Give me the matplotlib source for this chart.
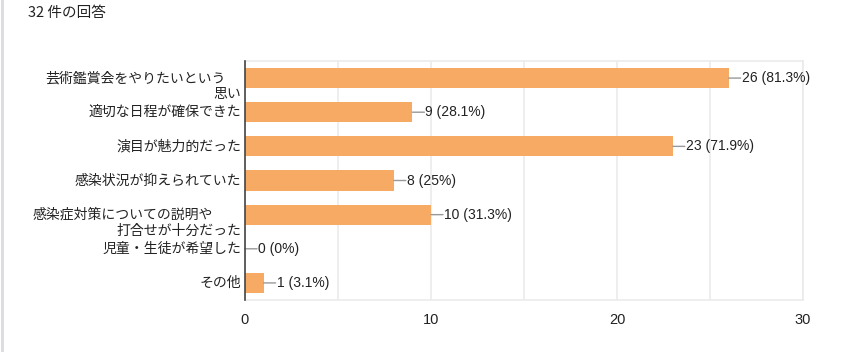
import matplotlib.pyplot as plt
from matplotlib.lines import Line2D

plt.rcParams['font.family'] = ['Liberation Sans', 'Noto Sans CJK JP', 'DejaVu Sans']

# データ
labels_line1 = ['芸術鑑賞会をやりたいという', '適切な日程が確保できた', '演目が魅力的だった',
                '感染状況が抑えられていた', '感染症対策についての説明や', '児童・生徒が希望した', 'その他']
labels_line2 = ['思い', '', '', '', '打合せが十分だった', '', '']
counts = [26, 9, 23, 8, 10, 0, 1]
percents = ['81.3%', '28.1%', '71.9%', '25%', '31.3%', '0%', '3.1%']
total_text = '32 件の回答'
xticks = [0, 10, 20, 30]

bar_color = '#F6AA63'
text_color = '#222222'

fig = plt.figure(figsize=(8.5, 3.52), dpi=100)
ax = fig.add_axes([245 / 850, 1 - 300 / 352, 558 / 850, 239 / 352])

y = list(range(len(counts)))
ax.barh(y, counts, height=0.59, color=bar_color, zorder=2)
ax.set_ylim(len(counts) - 0.5, -0.5)
ax.set_xlim(0, 30)

# グリッド
ax.set_xticks(xticks)
ax.set_xticks([5, 15, 25], minor=True)
ax.grid(axis='x', which='both', color='#EBEBEB', linewidth=1.2, zorder=0)
ax.tick_params(axis='x', which='both', length=0, pad=9, labelsize=10.5, labelcolor=text_color)
ax.set_yticks([])
for side in ['top', 'right', 'bottom']:
    ax.spines[side].set_color('#EBEBEB')
    ax.spines[side].set_linewidth(1.2)
ax.spines['left'].set_color('#444444')
ax.spines['left'].set_linewidth(1.2)
ax.spines['left'].set_zorder(3)

# 値ラベル
for i, (c, p) in enumerate(zip(counts, percents)):
    ax.annotate('', xy=(c, i), xytext=(12, 0), textcoords='offset pixels',
                arrowprops=dict(arrowstyle='-', color='#999999', lw=1, shrinkA=0, shrinkB=0))
    ax.annotate(f'{c} ({p})', xy=(c, i), xytext=(13, 0), textcoords='offset pixels',
                ha='left', va='center', fontsize=10, color=text_color)

# カテゴリラベル
first_offsets = [-19, -4, -4, -4, -32, -4, -4]
for i, (l1, l2) in enumerate(zip(labels_line1, labels_line2)):
    ax.annotate(l1, xy=(0, i), xytext=(first_offsets[i], 0), textcoords='offset pixels',
                ha='right', va='center', fontsize=10, color=text_color,
                family=['Noto Sans CJK JP', 'DejaVu Sans'])
    if l2:
        ax.annotate(l2, xy=(0, i), xytext=(-4, -16), textcoords='offset pixels',
                    ha='right', va='center', fontsize=10, color=text_color,
                    family=['Noto Sans CJK JP', 'DejaVu Sans'])

fig.text(28 / 850, 1 - 13 / 352, total_text, ha='left', va='center', fontsize=10.5,
         color=text_color, family=['Noto Sans CJK JP', 'DejaVu Sans'])

# 左側の枠線
fig.add_artist(Line2D([1.5 / 850, 1.5 / 850], [0, 1], color='#DADCE0', lw=2,
                      transform=fig.transFigure))

fig.savefig('out.png', dpi=100, facecolor='white')
